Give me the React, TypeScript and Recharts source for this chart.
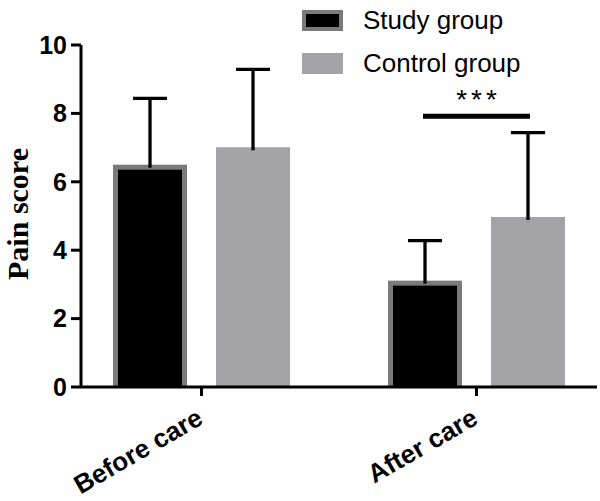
import { BarChart, Bar, XAxis, YAxis, Legend, ReferenceDot } from "recharts";

const categories = ["Before care", "After care"];
const studyMean = [6.5, 3.11];
const studySd = [1.94, 1.17];
const controlMean = [7.01, 4.97];
const controlSd = [2.28, 2.47];
const yTicks = [0, 2, 4, 6, 8, 10];
const seriesNames = ["Study group", "Control group"];

// significance bracket between the two "After care" bars
const sigCategory = "After care";
const sigLevel = 7.92;
const sigLabel = "***";

const data = categories.map((name, i) => ({
  name,
  study: studyMean[i],
  studyErr: studySd[i],
  control: controlMean[i],
  controlErr: controlSd[i],
}));

const BAR_SIZE = 74;
const BAR_GAP = 29;
const GREY_EDGE = "#7a7a7a";
const CONTROL_FILL = "#a3a2a6";
const SANS = "'Liberation Sans', Arial, sans-serif";

const StudyBar = (p: any) => {
  const { x, y, width, height } = p;
  const b = 5;
  return (
    <g>
      <rect x={x} y={y} width={width} height={height} fill={GREY_EDGE} />
      <rect x={x + b} y={y + b} width={width - 2 * b} height={height - b} fill="#000" />
    </g>
  );
};

// the stacked segment from mean to mean+sd drawn as a one-sided error bar
const ErrShape = (p: any) => {
  const { x, y, width, height } = p;
  const cx = x + width / 2;
  return (
    <g stroke="#000" strokeWidth={3.3}>
      <line x1={cx} y1={y} x2={cx} y2={y + height + 3} />
      <line x1={cx - 17} y1={y} x2={cx + 17} y2={y} />
    </g>
  );
};

const SigShape = (p: any) => {
  const { cx, cy } = p;
  const half = (BAR_SIZE + BAR_GAP) / 2 + 2;
  return (
    <g>
      <line x1={cx - half} y1={cy} x2={cx + half} y2={cy} stroke="#000" strokeWidth={5} />
      <text
        x={cx + 2}
        y={cy - 7}
        textAnchor="middle"
        fontFamily={SANS}
        fontSize={28}
        letterSpacing={4}
        fill="#000"
      >
        {sigLabel}
      </text>
    </g>
  );
};

const XTick = (p: any) => {
  const { x, y, payload } = p;
  return (
    <g transform={`translate(${x + 3},${y + 25}) rotate(-30)`}>
      <text x={0} y={0} textAnchor="end" fontFamily={SANS} fontWeight="bold" fontSize={26} fill="#000">
        {payload.value}
      </text>
    </g>
  );
};

const YLabel = (p: any) => {
  const { viewBox } = p;
  const cx = viewBox.x + 17;
  const cy = viewBox.y + viewBox.height / 2 - 2;
  return (
    <text
      x={cx}
      y={cy}
      transform={`rotate(-90, ${cx}, ${cy})`}
      textAnchor="middle"
      dominantBaseline="central"
      fontFamily="'Liberation Serif', 'Times New Roman', serif"
      fontWeight="bold"
      fontSize={30}
      fill="#000"
    >
      Pain score
    </text>
  );
};

const renderLegend = () => (
  <div style={{ fontFamily: SANS, fontSize: 26, color: "#000" }}>
    {seriesNames.map((n, i) => (
      <div key={n} style={{ display: "flex", alignItems: "center", height: 43 }}>
        <div
          style={{
            width: 41,
            height: 21,
            boxSizing: "border-box",
            background: i === 0 ? "#000" : CONTROL_FILL,
            border: i === 0 ? `4px solid ${GREY_EDGE}` : "none",
          }}
        />
        <span style={{ marginLeft: 20, lineHeight: "normal" }}>{n}</span>
      </div>
    ))}
  </div>
);

export default function App() {
  return (
    <div style={{ position: "absolute", left: 0, top: 0, background: "#fff" }}>
      <BarChart
        width={600}
        height={501}
        data={data}
        margin={{ top: 45, right: 3, bottom: 0, left: 0 }}
        barSize={BAR_SIZE}
        barGap={BAR_GAP}
      >
        <XAxis
          dataKey="name"
          height={114}
          padding={{ left: -17, right: -17 }}
          axisLine={{ stroke: "#000", strokeWidth: 3 }}
          tickLine={{ stroke: "#000", strokeWidth: 3 }}
          tickSize={9}
          tick={<XTick />}
          interval={0}
        />
        <YAxis
          width={81}
          domain={[0, 10]}
          ticks={yTicks}
          axisLine={{ stroke: "#000", strokeWidth: 3 }}
          tickLine={{ stroke: "#000", strokeWidth: 3 }}
          tickSize={10}
          tickMargin={4}
          tick={{ fill: "#000", fontFamily: SANS, fontWeight: "bold", fontSize: 25 }}
          label={<YLabel />}
        />
        <Legend
          content={renderLegend}
          layout="horizontal"
          verticalAlign="middle"
          align="center"
          wrapperStyle={{ top: -1, left: 302, width: 260 }}
        />
        <Bar dataKey="study" stackId="study" shape={<StudyBar />} isAnimationActive={false} />
        <Bar dataKey="studyErr" stackId="study" shape={<ErrShape />} legendType="none" isAnimationActive={false} />
        <Bar dataKey="control" stackId="control" fill={CONTROL_FILL} isAnimationActive={false} />
        <Bar dataKey="controlErr" stackId="control" shape={<ErrShape />} legendType="none" isAnimationActive={false} />
        <ReferenceDot x={sigCategory} y={sigLevel} shape={<SigShape />} ifOverflow="visible" />
      </BarChart>
    </div>
  );
}
